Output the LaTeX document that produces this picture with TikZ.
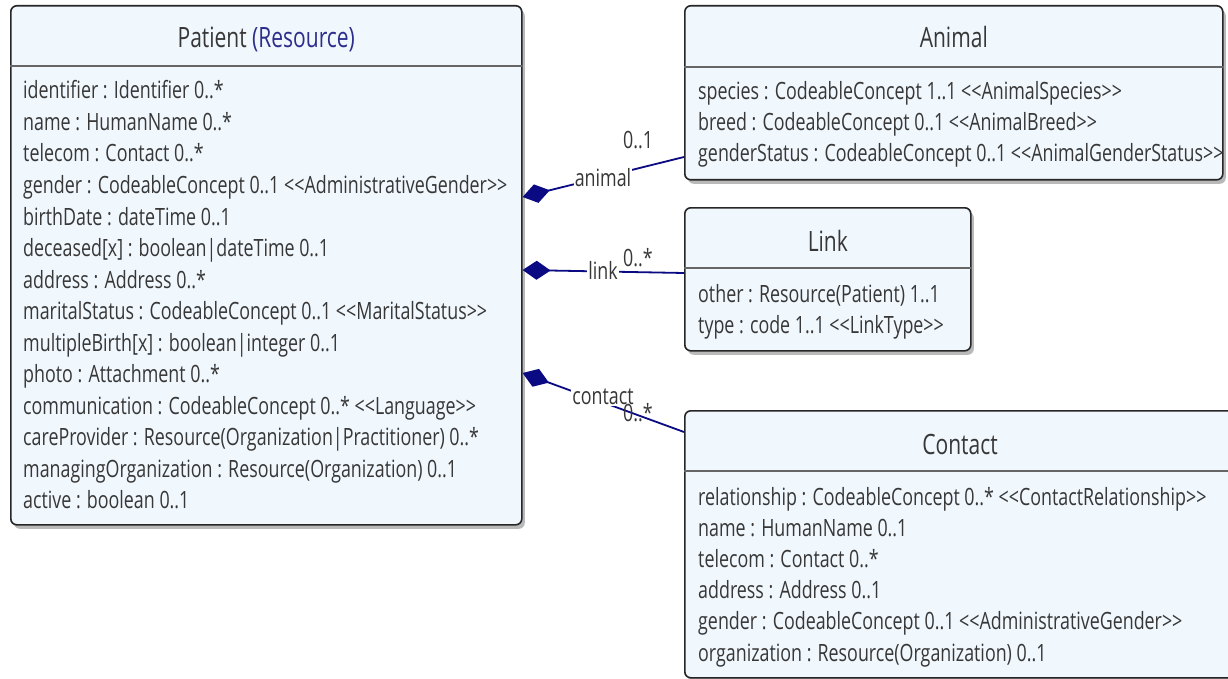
\documentclass[tikz,border=0pt]{standalone}
\usepackage{fontspec}
\setmainfont{Open Sans}[FakeStretch=0.75,Ligatures=TeXOff]
\usetikzlibrary{shadows,arrows.meta,calc}
\definecolor{boxfill}{RGB}{240,247,253}
\definecolor{txt}{RGB}{55,55,55}
\definecolor{navyline}{RGB}{10,10,130}
\definecolor{resblue}{RGB}{45,45,140}
\begin{document}
\begin{tikzpicture}[x=1pt,y=-1pt,
  classbox/.style={draw=black!85, line width=1.6pt, fill=boxfill, rounded corners=6pt,
    inner sep=0pt, anchor=north west,
    drop shadow={shadow xshift=3pt, shadow yshift=-4pt, fill=black!50, opacity=0.55}},
  divider/.style={draw=black!60, line width=1.4pt},
  titletext/.style={font=\fontsize{28}{32}\selectfont, text=txt, anchor=base, inner sep=0pt},
  attr/.style={font=\fontsize{23.8}{26}\selectfont, text=txt, anchor=base west, inner sep=0pt},
  assoc/.style={draw=navyline, line width=1.8pt, {Diamond[length=28pt,width=19pt,fill=navyline]}-},
  role/.style={font=\fontsize{23.8}{26}\selectfont, text=txt, fill=white, inner sep=1pt},
  mult/.style={font=\fontsize{23.8}{26}\selectfont, text=txt, inner sep=0pt}
]
\clip (0,0) rectangle (1228,679);
\fill[white] (0,0) rectangle (1228,679);

% Patient
\node[classbox, minimum width=511pt, minimum height=519pt] (patient) at (10,5) {};
\draw[divider] ($(patient.north west)+(0,61)$) -- ($(patient.north east)+(0,61)$);
\node[titletext] (ptitle) at ($(patient.north)+(0,43)$) {Patient \textcolor{resblue}{(Resource)}};
\foreach \t [count=\i from 0] in {
  {identifier : Identifier 0..*},
  {name : HumanName 0..*},
  {telecom : Contact 0..*},
  {gender : CodeableConcept 0..1 <<AdministrativeGender>>},
  {birthDate : dateTime 0..1},
  {deceased[x] : boolean|dateTime 0..1},
  {address : Address 0..*},
  {maritalStatus : CodeableConcept 0..1 <<MaritalStatus>>},
  {multipleBirth[x] : boolean|integer 0..1},
  {photo : Attachment 0..*},
  {communication : CodeableConcept 0..* <<Language>>},
  {careProvider : Resource(Organization|Practitioner) 0..*},
  {managingOrganization : Resource(Organization) 0..1},
  {active : boolean 0..1}}
  \node[attr] (pa\i) at ($(patient.north west)+(13,94+31.5*\i)$) {\t};

% Animal
\node[classbox, minimum width=538pt, minimum height=174pt] (animal) at (684,5) {};
\draw[divider] ($(animal.north west)+(0,62)$) -- ($(animal.north east)+(0,62)$);
\node[titletext] (atitle) at ($(animal.north)+(0,43)$) {Animal};
\foreach \t [count=\i from 0] in {
  {species : CodeableConcept 1..1 <<AnimalSpecies>>},
  {breed : CodeableConcept 0..1 <<AnimalBreed>>},
  {genderStatus : CodeableConcept 0..1 <<AnimalGenderStatus>>}}
  \node[attr] (aa\i) at ($(animal.north west)+(14,95+31*\i)$) {\t};

% Link
\node[classbox, minimum width=286pt, minimum height=143pt] (link) at (684,207) {};
\draw[divider] ($(link.north west)+(0,61)$) -- ($(link.north east)+(0,61)$);
\node[titletext] (ltitle) at ($(link.north)+(0,44)$) {Link};
\foreach \t [count=\i from 0] in {
  {other : Resource(Patient) 1..1},
  {type : code 1..1 <<LinkType>>}}
  \node[attr] (la\i) at ($(link.north west)+(14,95+31*\i)$) {\t};

% Contact
\node[classbox, minimum width=560pt, minimum height=267pt] (contact) at (684,410) {};
\draw[divider] ($(contact.north west)+(0,61)$) -- ($(contact.north east)+(0,61)$);
\node[titletext] (ctitle) at ($(contact.north west)+(276,44)$) {Contact};
\foreach \t [count=\i from 0] in {
  {relationship : CodeableConcept 0..* <<ContactRelationship>>},
  {name : HumanName 0..1},
  {telecom : Contact 0..*},
  {address : Address 0..1},
  {gender : CodeableConcept 0..1 <<AdministrativeGender>>},
  {organization : Resource(Organization) 0..1}}
  \node[attr] (ca\i) at ($(contact.north west)+(14,95+31.2*\i)$) {\t};

% Associations
\coordinate (pAn) at ($(patient.north east)+(0,192)$);
\coordinate (aIn) at ($(animal.north west)+(0,152)$);
\coordinate (pLk) at ($(patient.north east)+(0,265)$);
\coordinate (lIn) at ($(link.north west)+(0,66)$);
\coordinate (pCt) at ($(patient.north east)+(0,368)$);
\coordinate (cIn) at ($(contact.north west)+(0,22)$);

\draw[assoc] (pAn) -- (aIn);
\draw[assoc] (pLk) -- (lIn);
\draw[assoc] (pCt) -- (cIn);

\node[role] (ranimal) at (603,178) {animal};
\node[mult] (manimal) at (638,140) {0..1};
\node[role] (rlink) at (603,270) {link};
\node[mult] (mlink) at (638,258) {0..*};
\node[role] (rcontact) at (603,397) {contact};
\node[mult] (mcontact) at (638,413) {0..*};
\end{tikzpicture}
\end{document}
